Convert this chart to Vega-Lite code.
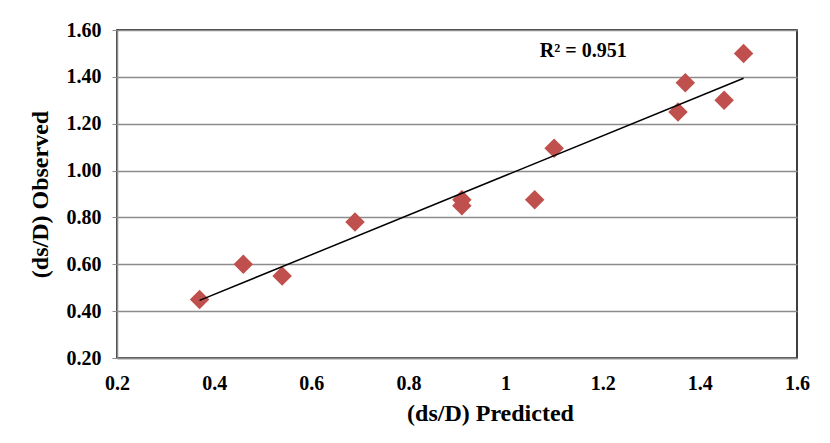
{
  "$schema": "https://vega.github.io/schema/vega-lite/v6.json",
  "width": 680,
  "height": 328,
  "autosize": "none",
  "padding": {"left": 117, "top": 30, "right": 33, "bottom": 85},
  "background": "white",
  "config": {
    "view": {"stroke": "black", "strokeWidth": 1.5},
    "font": "Liberation Serif",
    "axis": {
      "labelFont": "Liberation Serif",
      "titleFont": "Liberation Serif",
      "labelFontWeight": "bold",
      "titleFontWeight": "bold",
      "labelFontSize": 20,
      "titleFontSize": 24,
      "labelColor": "black",
      "titleColor": "black",
      "domainColor": "#8c8c8c",
      "domainWidth": 1.5,
      "tickColor": "#8c8c8c"
    }
  },
  "data": {
    "values": [
      {"pred": 0.37, "obs": 0.45},
      {"pred": 0.46, "obs": 0.60},
      {"pred": 0.54, "obs": 0.55},
      {"pred": 0.69, "obs": 0.78},
      {"pred": 0.91, "obs": 0.875},
      {"pred": 0.91, "obs": 0.85},
      {"pred": 1.06, "obs": 0.875},
      {"pred": 1.10, "obs": 1.095},
      {"pred": 1.355, "obs": 1.25},
      {"pred": 1.37, "obs": 1.375},
      {"pred": 1.45, "obs": 1.30},
      {"pred": 1.49, "obs": 1.50}
    ]
  },
  "layer": [
    {
      "mark": {"type": "point", "shape": "diamond", "filled": true, "size": 380, "color": "#C0504D", "opacity": 1},
      "encoding": {
        "x": {
          "field": "pred", "type": "quantitative",
          "scale": {"domain": [0.2, 1.6], "nice": false, "zero": false},
          "axis": {"title": "(ds/D) Predicted", "values": [0.2, 0.4, 0.6, 0.8, 1, 1.2, 1.4, 1.6], "format": "~g", "grid": false, "ticks": false, "labelFlush": false, "labelOverlap": false, "labelPadding": 15, "titlePadding": 8, "titleX": 373}
        },
        "y": {
          "field": "obs", "type": "quantitative",
          "scale": {"domain": [0.2, 1.6], "nice": false, "zero": false},
          "axis": {"title": "(ds/D) Observed", "values": [0.2, 0.4, 0.6, 0.8, 1.0, 1.2, 1.4, 1.6], "format": ".2f", "grid": true, "gridColor": "#8c8c8c", "gridWidth": 1.5, "ticks": true, "tickSize": 5, "labelFlush": false, "labelOverlap": false, "labelPadding": 11, "titlePadding": 14}
        }
      }
    },
    {
      "transform": [{"regression": "obs", "on": "pred"}],
      "mark": {"type": "line", "color": "black", "strokeWidth": 1.5},
      "encoding": {
        "x": {"field": "pred", "type": "quantitative"},
        "y": {"field": "obs", "type": "quantitative"}
      }
    },
    {
      "data": {"values": [{"pred": 1.16, "obs": 1.51, "label": "R² = 0.951"}]},
      "mark": {"type": "text", "font": "Liberation Serif", "fontWeight": "bold", "fontSize": 20, "color": "black"},
      "encoding": {
        "x": {"field": "pred", "type": "quantitative"},
        "y": {"field": "obs", "type": "quantitative"},
        "text": {"field": "label"}
      }
    }
  ]
}
